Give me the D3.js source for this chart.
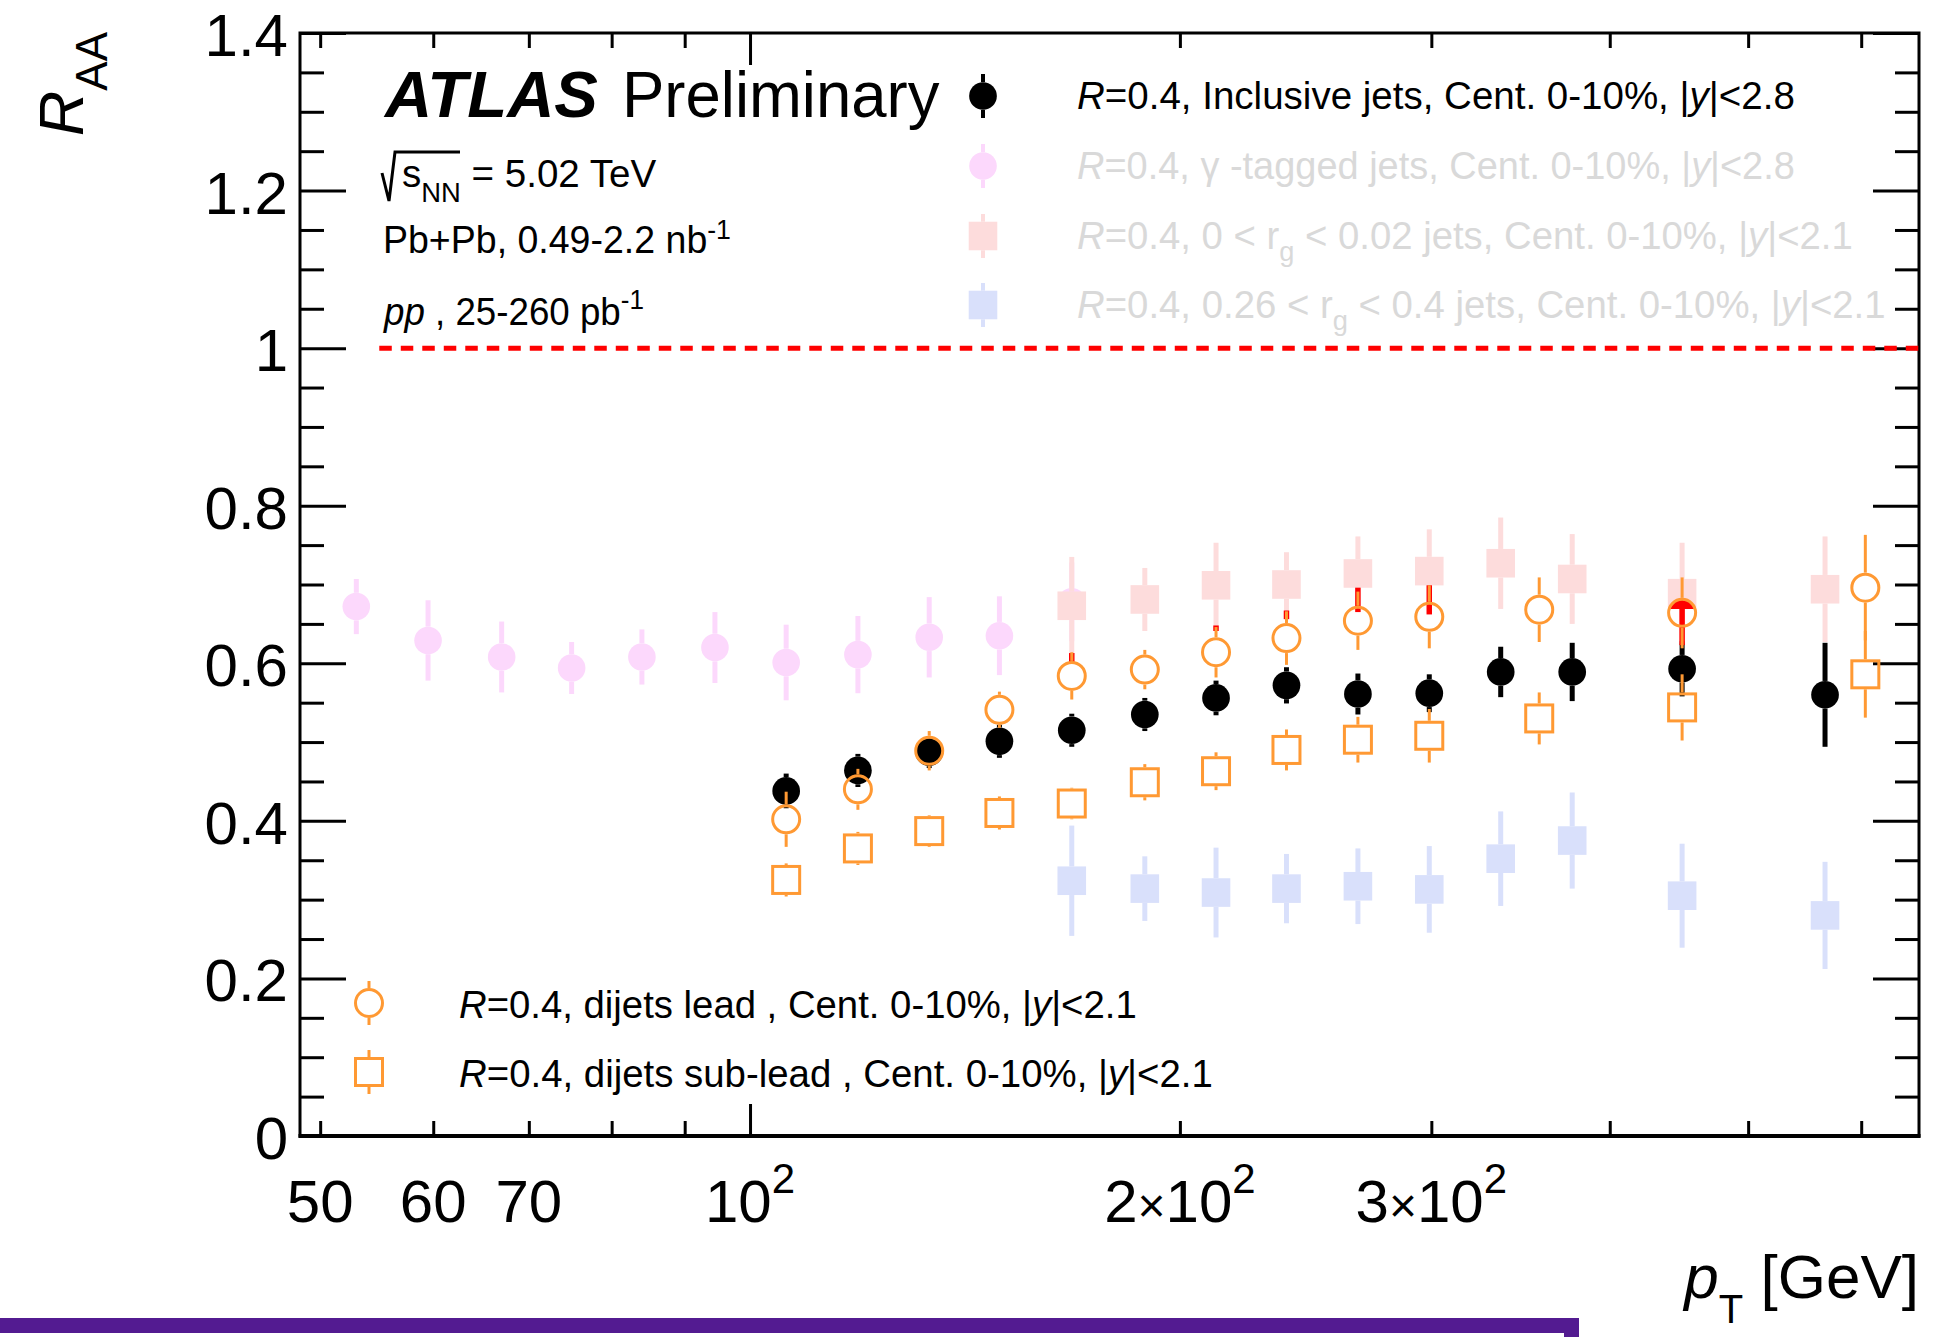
<!DOCTYPE html>
<html>
<head>
<meta charset="utf-8">
<script src="https://cdn.jsdelivr.net/npm/d3@7"></script>
<style>
  html, body { margin: 0; padding: 0; background: #fff; }
  svg { display: block; }
  text { font-family: "Liberation Sans", Arial, Helvetica, sans-serif; white-space: pre; }
</style>
</head>
<body>
<svg id="chart" width="1936" height="1337"></svg>
<script>
// ---------------- data ----------------
// Inclusive jets, R=0.4, 0-10%
const ptIncl  = [106, 119, 133.5, 149.5, 168, 189, 212, 237.5, 266.5, 299, 335.5, 376.5, 449.5, 566];
const raaIncl = [0.438, 0.464, 0.487, 0.501, 0.515, 0.535, 0.556, 0.572, 0.561, 0.562, 0.589, 0.589, 0.593, 0.560];
const errIncl = [0.022, 0.021, 0.020, 0.021, 0.021, 0.021, 0.022, 0.023, 0.026, 0.024, 0.032, 0.037, 0.035, 0.066];

// gamma-tagged jets
const ptGam  = [53, 59.5, 67, 75, 84, 94.5, 106, 119, 133.5, 149.5, 168];
const raaGam = [0.672, 0.629, 0.608, 0.594, 0.608, 0.620, 0.601, 0.611, 0.633, 0.635, 0.678];
const errGam = [0.035, 0.051, 0.045, 0.033, 0.035, 0.045, 0.048, 0.049, 0.051, 0.050, 0.050];

// groomed-radius selected jets
const ptRg     = [168, 189, 212, 237.5, 266.5, 299, 335.5, 376.5, 449.5, 566];
const raaRgLo  = [0.673, 0.681, 0.699, 0.700, 0.714, 0.717, 0.727, 0.707, 0.689, 0.694];
const errRgLo  = [0.062, 0.040, 0.054, 0.041, 0.047, 0.053, 0.058, 0.057, 0.064, 0.067];
const raaRgHi  = [0.324, 0.314, 0.309, 0.314, 0.317, 0.313, 0.352, 0.375, 0.305, 0.280];
const errRgHi  = [0.070, 0.041, 0.057, 0.044, 0.048, 0.055, 0.060, 0.061, 0.066, 0.068];

// dijets, leading and sub-leading
const ptDij      = [106, 119, 133.5, 149.5, 168, 189, 212, 237.5, 266.5, 299, 357, 449.5, 604];
const raaLead    = [0.402, 0.440, 0.489, 0.541, 0.584, 0.592, 0.614, 0.632, 0.654, 0.659, 0.668, 0.664, 0.696];
const errLead    = [0.035, 0.026, 0.025, 0.023, 0.030, 0.025, 0.032, 0.034, 0.037, 0.040, 0.041, 0.045, 0.067];
const raaSubLead = [0.325, 0.365, 0.387, 0.410, 0.422, 0.449, 0.463, 0.490, 0.503, 0.508, 0.530, 0.544, 0.586];
const errSubLead = [0.021, 0.021, 0.020, 0.021, 0.020, 0.023, 0.024, 0.026, 0.029, 0.034, 0.033, 0.042, 0.055];

// red uncertainty segments peeking out between the other markers
const ptRed  = [168, 212, 237.5, 266.5, 299, 449.5];
const redLo  = [0.601, 0.641, 0.656, 0.665, 0.662, 0.623];
const redHi  = [0.613, 0.648, 0.667, 0.696, 0.699, 0.669];
const ptRedCap = [449.5];
const redCapVal = [0.6645];
const redCapEdge = [0.669];

// axis ticks and labels
const xMinorTicks = [50, 60, 70, 80, 90, 200, 300, 400, 500, 600];
const xMajorTicks = [100];
const xLabelValues = [50, 60, 70, 100, 200, 300];
const xLabelMant   = ["50", "60", "70", "", "2", "3"];
const xLabelExp    = [null, null, null, "2", "2", "2"];
const yMajorTicks = [0, 0.2, 0.4, 0.6, 0.8, 1.0, 1.2, 1.4];
const yTickLabels = ["0", "0.2", "0.4", "0.6", "0.8", "1", "1.2", "1.4"];
const yMinorTicks = d3.range(0, 1.401, 0.05).filter(v => Math.abs(v / 0.2 - Math.round(v / 0.2)) > 0.01);
const unityLevel = 1;

// legend labels
const legendTop = [
  "#it{R}=0.4, Inclusive jets, Cent. 0-10%, |#it{y}|<2.8",
  "#it{R}=0.4, γ -tagged jets, Cent. 0-10%, |#it{y}|<2.8",
  "#it{R}=0.4, 0 < r_{g} < 0.02 jets, Cent. 0-10%, |#it{y}|<2.1",
  "#it{R}=0.4, 0.26 < r_{g} < 0.4 jets, Cent. 0-10%, |#it{y}|<2.1"
];
const legendBottom = [
  "#it{R}=0.4, dijets lead , Cent. 0-10%, |#it{y}|<2.1",
  "#it{R}=0.4, dijets sub-lead , Cent. 0-10%, |#it{y}|<2.1"
];

// ---------------- layout & scales ----------------
const F = { left: 300, right: 1919, top: 33, bottom: 1136 };
const x = d3.scaleLog().domain([48.4, 658.6]).range([F.left, F.right]);
const y = d3.scaleLinear().domain([0, 1.4]).range([F.bottom, F.top]);

const C = {
  black: "#000000",
  gam: "#fcd8fc",
  rgLo: "#fddcdc",
  rgHi: "#d9e0fb",
  orange: "#ff9933",
  red: "#ff0000",
  faded: "#d9d9d9"
};

const svg = d3.select("#chart");

// rich text helper: #it{..} italic, _{..} subscript, ^{..} superscript
function rich(t, str, subSize, subDy, supDy) {
  const parts = str.split(/(#it\{[^}]*\}|_\{[^}]*\}|\^\{[^}]*\})/).filter(s => s.length);
  let pending = 0;
  parts.forEach(p => {
    let m, ts;
    if ((m = p.match(/^#it\{(.*)\}$/))) {
      ts = t.append("tspan").attr("font-style", "italic").text(m[1]);
      if (pending) { ts.attr("dy", pending); pending = 0; }
    } else if ((m = p.match(/^_\{(.*)\}$/))) {
      t.append("tspan").attr("font-size", subSize).attr("dy", subDy + pending).text(m[1]);
      pending = -subDy;
    } else if ((m = p.match(/^\^\{(.*)\}$/))) {
      t.append("tspan").attr("font-size", subSize).attr("dy", -supDy + pending).text(m[1]);
      pending = supDy;
    } else {
      ts = t.append("tspan").text(p);
      if (pending) { ts.attr("dy", pending); pending = 0; }
    }
  });
}

// places a line of text and stretches it horizontally to a given width
function placeText(str, x0, y0, size, color, targetW, opts = {}) {
  const g = svg.append("g").attr("transform", `translate(${x0},${y0})`);
  const t = g.append("text").attr("font-size", size).attr("fill", color);
  if (opts.weight) t.attr("font-weight", opts.weight);
  if (opts.style) t.attr("font-style", opts.style);
  rich(t, str, opts.subSize || size * 0.7, opts.subDy || size * 0.33, opts.supDy || size * 0.4);
  if (targetW) {
    const b = t.node().getBBox();
    const k = targetW / b.width;
    g.attr("transform", `translate(${x0 - b.x * k},${y0}) scale(${k},1)`);
  }
  return g;
}

// ---------------- axes ----------------
function tickGroup(axis, tx, ty) {
  const g = svg.append("g").attr("transform", `translate(${tx},${ty})`).call(axis);
  g.select(".domain").remove();
  g.selectAll(".tick text").remove();
  g.selectAll(".tick line").attr("stroke", "#000").attr("stroke-width", 3);
  return g;
}
tickGroup(d3.axisBottom(x).tickValues(xMinorTicks).tickSize(-15).tickFormat(""), 0, F.bottom);
tickGroup(d3.axisBottom(x).tickValues(xMajorTicks).tickSize(-32).tickFormat(""), 0, F.bottom);
tickGroup(d3.axisTop(x).tickValues(xMinorTicks).tickSize(-15).tickFormat(""), 0, F.top);
tickGroup(d3.axisTop(x).tickValues(xMajorTicks).tickSize(-32).tickFormat(""), 0, F.top);
tickGroup(d3.axisLeft(y).tickValues(yMinorTicks).tickSize(-24).tickFormat(""), F.left, 0);
tickGroup(d3.axisLeft(y).tickValues(yMajorTicks).tickSize(-46).tickFormat(""), F.left, 0);
tickGroup(d3.axisRight(y).tickValues(yMinorTicks).tickSize(-24).tickFormat(""), F.right, 0);
tickGroup(d3.axisRight(y).tickValues(yMajorTicks).tickSize(-46).tickFormat(""), F.right, 0);

// frame
svg.append("rect")
  .attr("x", F.left).attr("y", F.top)
  .attr("width", F.right - F.left).attr("height", F.bottom - F.top)
  .attr("fill", "none").attr("stroke", "#000").attr("stroke-width", 3);
svg.append("line")
  .attr("x1", F.left - 1.5).attr("x2", F.right + 1.5)
  .attr("y1", F.bottom).attr("y2", F.bottom)
  .attr("stroke", "#000").attr("stroke-width", 4);

// y tick labels
svg.append("g").selectAll("text").data(yMajorTicks).join("text")
  .attr("x", 288).attr("y", d => y(d) + 23)
  .attr("text-anchor", "end").attr("font-size", 60)
  .text((d, i) => yTickLabels[i]);

// x tick labels
xLabelValues.forEach((v, i) => {
  const t = svg.append("text").attr("x", x(v)).attr("y", 1222)
    .attr("text-anchor", "middle").attr("font-size", 60);
  if (xLabelExp[i]) {
    if (xLabelMant[i]) {
      t.append("tspan").text(xLabelMant[i]);
      t.append("tspan").attr("font-size", 48).text("×");
    }
    t.append("tspan").text("10");
    t.append("tspan").attr("font-size", 42).attr("dy", -29).text(xLabelExp[i]);
  } else {
    t.text(xLabelMant[i]);
  }
});

// axis titles
const yTitle = svg.append("text")
  .attr("transform", "translate(83,32) rotate(-90)")
  .attr("text-anchor", "end").attr("font-size", 63);
yTitle.append("tspan").attr("font-style", "italic").text("R");
yTitle.append("tspan").attr("font-size", 44).attr("dy", 24).text("AA");

const xTitle = svg.append("text")
  .attr("x", 1919).attr("y", 1298)
  .attr("text-anchor", "end").attr("font-size", 62);
xTitle.append("tspan").attr("font-style", "italic").text("p");
xTitle.append("tspan").attr("font-size", 40).attr("dy", 25).text("T");
xTitle.append("tspan").attr("dy", -25).text(" [GeV]");

// unity reference
svg.append("line")
  .attr("x1", x(55)).attr("x2", F.right)
  .attr("y1", y(unityLevel)).attr("y2", y(unityLevel))
  .attr("stroke", C.red).attr("stroke-width", 5)
  .attr("stroke-dasharray", "12.5 9");

// ---------------- data series ----------------
const plot = svg.append("g");

function drawSeries(pts, vals, errs, o) {
  const rows = pts.map((p, i) => ({ pt: p, v: vals[i], e: errs[i] }));
  const g = plot.append("g");
  const half = o.half;
  g.selectAll("line.up").data(rows).join("line").attr("class", "up")
    .attr("x1", d => x(d.pt)).attr("x2", d => x(d.pt))
    .attr("y1", d => y(d.v) - half)
    .attr("y2", d => Math.min(y(d.v) - half, y(d.v + d.e)))
    .attr("stroke", o.color).attr("stroke-width", o.barW);
  g.selectAll("line.dn").data(rows).join("line").attr("class", "dn")
    .attr("x1", d => x(d.pt)).attr("x2", d => x(d.pt))
    .attr("y1", d => y(d.v) + half)
    .attr("y2", d => Math.max(y(d.v) + half, y(d.v - d.e)))
    .attr("stroke", o.color).attr("stroke-width", o.barW);
  drawMarkers(g, rows.map(d => [x(d.pt), y(d.v)]), o);
  return g;
}

function drawMarkers(g, xy, o) {
  if (o.shape === "circle") {
    g.selectAll("circle.m").data(xy).join("circle").attr("class", "m")
      .attr("cx", d => d[0]).attr("cy", d => d[1]).attr("r", o.r)
      .attr("fill", o.open ? "none" : o.color)
      .attr("stroke", o.open ? o.color : "none")
      .attr("stroke-width", o.open ? o.strokeW : 0);
  } else {
    g.selectAll("rect.m").data(xy).join("rect").attr("class", "m")
      .attr("x", d => d[0] - o.r).attr("y", d => d[1] - o.r)
      .attr("width", 2 * o.r).attr("height", 2 * o.r)
      .attr("fill", o.open ? "none" : o.color)
      .attr("stroke", o.open ? o.color : "none")
      .attr("stroke-width", o.open ? o.strokeW : 0);
  }
}

const styGam   = { shape: "circle", r: 13.8, half: 13.8, color: C.gam, barW: 5 };
const styIncl  = { shape: "circle", r: 13.85, half: 13.85, color: C.black, barW: 5 };
const styRgLo  = { shape: "square", r: 14.3, half: 14.3, color: C.rgLo, barW: 5 };
const styRgHi  = { shape: "square", r: 14.3, half: 14.3, color: C.rgHi, barW: 5 };
const styLead  = { shape: "circle", r: 13.5, half: 15, color: C.orange, barW: 3, open: true, strokeW: 3 };
const stySub   = { shape: "square", r: 13.5, half: 15, color: C.orange, barW: 3, open: true, strokeW: 3 };

drawSeries(ptGam, raaGam, errGam, styGam);
drawSeries(ptIncl, raaIncl, errIncl, styIncl);
drawSeries(ptRg, raaRgLo, errRgLo, styRgLo);
drawSeries(ptRg, raaRgHi, errRgHi, styRgHi);

// red segments
const redG = plot.append("g");
redG.selectAll("line").data(ptRed).join("line")
  .attr("x1", d => x(d)).attr("x2", d => x(d))
  .attr("y1", (d, i) => y(redLo[i])).attr("y2", (d, i) => y(redHi[i]))
  .attr("stroke", C.red).attr("stroke-width", 5.5);
const defs = svg.append("defs");
ptRedCap.forEach((p, i) => {
  const id = "redcap" + i;
  defs.append("clipPath").attr("id", id).append("rect")
    .attr("x", x(p) - 20).attr("width", 40)
    .attr("y", y(redCapVal[i]) - 20).attr("height", y(redCapEdge[i]) - (y(redCapVal[i]) - 20));
  redG.append("circle").attr("cx", x(p)).attr("cy", y(redCapVal[i])).attr("r", 12.5)
    .attr("fill", C.red).attr("clip-path", `url(#${id})`);
});

drawSeries(ptDij, raaLead, errLead, styLead);
drawSeries(ptDij, raaSubLead, errSubLead, stySub);

// ---------------- labels ----------------
placeText("ATLAS", 383, 117, 65, "#000", 215, { weight: "bold", style: "italic" });
placeText("Preliminary", 622, 117, 65, "#000", 318);

// sqrt(s_NN)
svg.append("path")
  .attr("d", "M382,173 L389,201 L395,152 L460,152")
  .attr("fill", "none").attr("stroke", "#000").attr("stroke-width", 3)
  .attr("stroke-linejoin", "miter");
placeText("s_{NN} = 5.02 TeV", 402, 187, 38, "#000", 255, { subSize: 27, subDy: 15 });
placeText("Pb+Pb, 0.49-2.2 nb^{-1}", 383, 253, 38, "#000", 348, { subSize: 27, supDy: 14 });
placeText("#it{pp} , 25-260 pb^{-1}", 383, 325, 38, "#000", 261, { subSize: 27, supDy: 16 });

// legends
const topRowsY = [96, 166, 236, 305];
const topWidths = [718, 718, 776, 809];
const topStyles = [styIncl, styGam, styRgLo, styRgHi];
const topColors = ["#000", C.faded, C.faded, C.faded];
const botRowsY = [1003, 1072];
const botWidths = [678, 754];
const botStyles = [styLead, stySub];

function legendMarker(cx, cy, o) {
  const g = svg.append("g");
  g.append("line").attr("x1", cx).attr("x2", cx).attr("y1", cy - 22).attr("y2", cy - o.half)
    .attr("stroke", o.color).attr("stroke-width", Math.min(o.barW, 4));
  g.append("line").attr("x1", cx).attr("x2", cx).attr("y1", cy + o.half).attr("y2", cy + 22)
    .attr("stroke", o.color).attr("stroke-width", Math.min(o.barW, 4));
  drawMarkers(g, [[cx, cy]], o);
}

legendTop.forEach((s, i) => {
  legendMarker(983, topRowsY[i], topStyles[i]);
  placeText(s, 1077, topRowsY[i] + 13, 38, topColors[i], topWidths[i], { subSize: 27, subDy: 12 });
});
legendBottom.forEach((s, i) => {
  legendMarker(369, botRowsY[i], botStyles[i]);
  placeText(s, 459, botRowsY[i] + 15, 38, "#000", botWidths[i]);
});

// purple frame edge along the bottom
svg.append("rect")
  .attr("x", -20).attr("y", 1325.5)
  .attr("width", 1591.5).attr("height", 200)
  .attr("fill", "#fff").attr("stroke", "#531b91").attr("stroke-width", 15);
</script>
</body>
</html>
